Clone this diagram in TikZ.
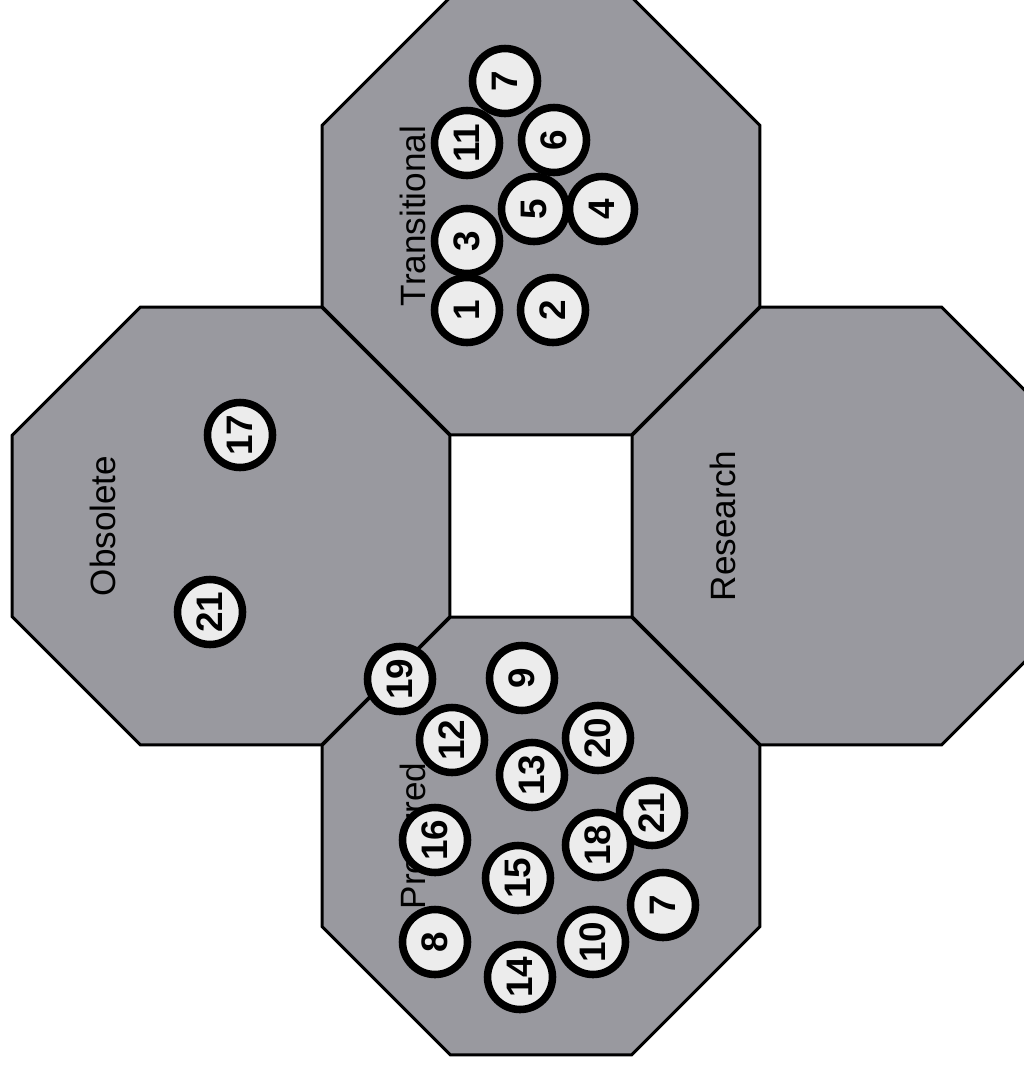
\documentclass[tikz,border=0pt]{standalone}
\usepackage{fontspec}
\setmainfont{Liberation Sans}
\usetikzlibrary{shapes.geometric}
\definecolor{octgray}{RGB}{153,153,159}
\definecolor{ballfill}{RGB}{236,236,236}

\begin{document}
\begin{tikzpicture}[
    x=0.02cm, y=-0.02cm,
    octa/.style={
        draw=black,
        line width=1.7pt,
        fill=octgray,
        regular polygon,
        regular polygon sides=8,
        minimum size=9.48cm,
        inner sep=0pt,
        outer sep=0pt
    },
    zone/.style={
        rotate=90,
        font=\fontsize{20}{23}\selectfont
    },
    ball/.style={
        circle,
        draw=black,
        line width=4.3pt,
        fill=ballfill,
        minimum size=1.3cm,
        inner sep=0pt,
        rotate=90,
        font=\fontsize{21}{24}\selectfont\bfseries
    }
]
    \useasboundingbox (0,0) rectangle (1024,1065);

    % the four octagons round the empty square
    \node[octa] (trans) at (541,216) {};
    \node[octa] (obs)   at (231,526) {};
    \node[octa] (pref)  at (541,836) {};
    \node[octa] (res)   at (851,526) {};

    \node[zone] (transname) at (413,216) {Transitional};
    \node[zone] (obsname)   at (103,526) {Obsolete};
    \node[zone] (prefname)  at (413,836) {Preferred};
    \node[zone] (resname)   at (723,526) {Research};

    % Transitional
    \node[ball] (t1)  at (467,310) {1};
    \node[ball] (t2)  at (553,310) {2};
    \node[ball] (t3)  at (467,241) {3};
    \node[ball] (t4)  at (602,209) {4};
    \node[ball] (t5)  at (534,209) {5};
    \node[ball] (t6)  at (554,140) {6};
    \node[ball] (t11) at (467,143) {11};
    \node[ball] (t7)  at (505,81)  {7};

    % Obsolete
    \node[ball] (o17) at (240,435) {17};
    \node[ball] (o21) at (210,612) {21};

    % Preferred
    \node[ball] (p19) at (400,679) {19};
    \node[ball] (p9)  at (522,678) {9};
    \node[ball] (p12) at (452,740) {12};
    \node[ball] (p20) at (598,738) {20};
    \node[ball] (p13) at (532,775) {13};
    \node[ball] (p21) at (652,813) {21};
    \node[ball] (p16) at (435,840) {16};
    \node[ball] (p18) at (598,845) {18};
    \node[ball] (p15) at (518,878) {15};
    \node[ball] (p7)  at (663,905) {7};
    \node[ball] (p8)  at (435,942) {8};
    \node[ball] (p10) at (593,942) {10};
    \node[ball] (p14) at (520,977) {14};
\end{tikzpicture}
\end{document}
